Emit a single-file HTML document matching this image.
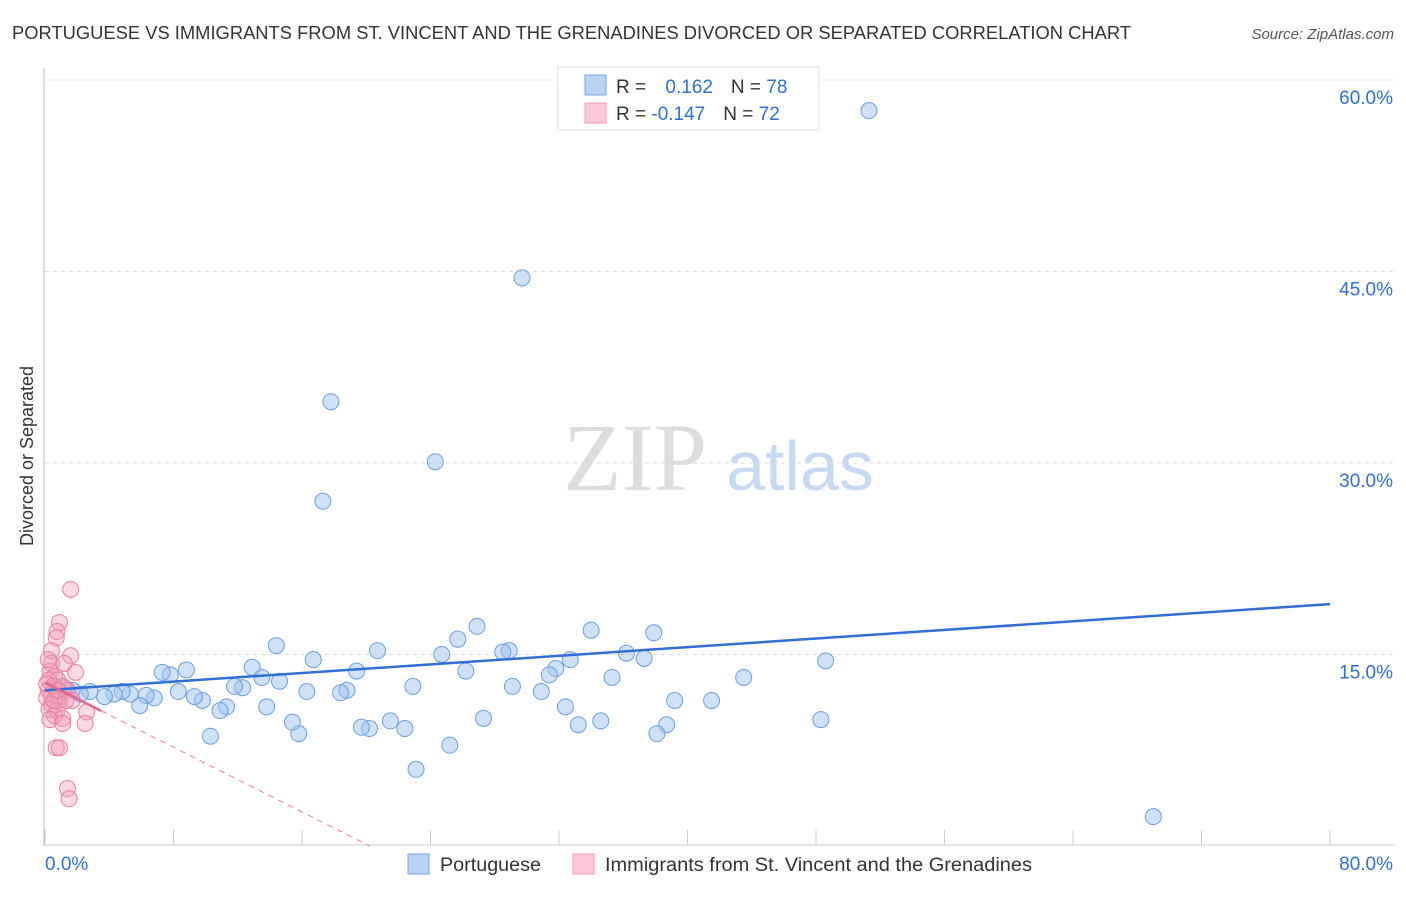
<!DOCTYPE html>
<html><head><meta charset="utf-8"><style>
body{margin:0;background:#fff;font-family:"Liberation Sans",sans-serif}
</style></head><body>
<svg width="1406" height="892" xmlns="http://www.w3.org/2000/svg" font-family="Liberation Sans, sans-serif">
<text x="12" y="39" font-size="18" fill="#333" textLength="1119" lengthAdjust="spacingAndGlyphs">PORTUGUESE VS IMMIGRANTS FROM ST. VINCENT AND THE GRENADINES DIVORCED OR SEPARATED CORRELATION CHART</text>
<text x="1394" y="39" font-size="15" fill="#555" text-anchor="end" font-style="italic">Source: ZipAtlas.com</text>
<text transform="translate(33,456) rotate(-90)" font-size="18" fill="#333" text-anchor="middle">Divorced or Separated</text>
<g><text x="635" y="490" font-size="96" fill="#ddd" font-family="Liberation Serif, serif" text-anchor="middle">ZIP</text><text x="800" y="490" font-size="70" fill="#c8daf3" text-anchor="middle">atlas</text></g>
<g id="grid"></g><g id="marks"></g>
<g>
<rect x="558" y="67" width="261" height="63" fill="#fff" stroke="#ddd"/>
<rect x="585" y="75" width="21" height="20" fill="#b9d3f5" stroke="#7aa6e3"/>
<rect x="585" y="103" width="21" height="20" fill="#fcc8d8" stroke="#f09ab5"/>
<text x="616" y="93" font-size="19" fill="#333">R = <tspan fill="#2f6fd6" dx="14">0.162</tspan><tspan fill="#333" dx="18">N = </tspan><tspan fill="#2f6fd6">78</tspan></text>
<text x="616" y="120" font-size="19" fill="#333">R = <tspan fill="#2f6fd6">-0.147</tspan><tspan fill="#333" dx="18">N = </tspan><tspan fill="#2f6fd6">72</tspan></text>
</g>
<g>
<rect x="408" y="854" width="21" height="20" fill="#b9d3f5" stroke="#7aa6e3"/>
<text x="440" y="871" font-size="19" fill="#333" textLength="101" lengthAdjust="spacingAndGlyphs">Portuguese</text>
<rect x="573" y="854" width="21" height="20" fill="#fcc8d8" stroke="#f09ab5"/>
<text x="605" y="871" font-size="19" fill="#333" textLength="427" lengthAdjust="spacingAndGlyphs">Immigrants from St. Vincent and the Grenadines</text>
</g>
</svg>
<script>
const yTicks=[15,30,45,60];
const xLabels=["0.0%","80.0%"];
const blueX=[51.3,29.7,17.8,24.3,17.3,69.0,48.6,48.3,43.5,41.5,39.2,38.7,38.1,37.9,37.3,36.2,35.3,34.6,34.0,33.2,32.7,32.4,31.8,31.4,30.9,29.1,28.9,28.5,27.3,26.9,26.2,25.7,25.2,24.7,23.1,22.9,22.4,21.5,20.7,20.2,19.7,19.4,18.8,18.4,16.7,16.3,15.8,15.4,14.6,14.4,13.8,13.5,12.9,12.3,11.8,11.3,10.9,10.3,9.8,9.3,8.8,8.3,7.8,7.3,6.8,6.3,5.9,5.3,4.8,4.3,3.7,2.8,2.2,1.7,1.2,0.9];
const blueY=[57.6,44.5,34.8,30.1,27.0,2.3,14.5,9.9,13.2,11.4,11.4,9.5,8.8,16.7,14.7,15.1,13.2,9.8,16.9,9.5,14.6,10.9,13.9,13.4,12.1,12.5,15.3,15.2,10.0,17.2,13.7,16.2,7.9,15.0,6.0,12.5,9.2,9.8,15.3,9.2,9.3,13.7,12.2,12.0,14.6,12.1,8.8,9.7,12.9,15.7,10.9,13.2,14.0,12.4,12.5,10.9,10.6,8.6,11.4,11.7,13.8,12.1,13.4,13.6,11.6,11.8,11.0,11.9,12.1,11.9,11.7,12.1,11.9,12.2,12.4,11.7];
const pinkX=[1.6,0.9,0.75,0.7,0.4,1.6,1.2,0.4,1.9,0.3,0.6,0.25,0.8,0.5,1.1,0.2,1.4,0.4,0.7,0.1,0.9,1.7,0.4,0.25,0.75,0.6,1.1,2.6,0.3,1.1,2.5,0.7,0.9,1.4,1.5,0.2,0.55,1.3,0.8,0.1];
const pinkY=[20.1,17.5,16.8,16.3,15.3,14.9,14.3,14.3,13.6,13.7,13.3,13.0,13.0,12.5,12.5,12.2,12.2,11.9,11.7,11.6,11.4,11.4,11.1,10.7,10.6,10.2,10.0,10.5,9.9,9.6,9.6,7.7,7.7,4.5,3.7,14.6,11.4,11.4,12.2,12.7];
const blueTrend=[12.2,18.95];
const pinkTrend=[12.8,-0.633];
const NS="http://www.w3.org/2000/svg";
const X=v=>45+v/80*1285, Y=v=>846-v/60*766;
function mk(p,t,a){const e=document.createElementNS(NS,t);for(const k in a)e.setAttribute(k,a[k]);p.appendChild(e);return e;}
const g=document.getElementById('grid'), m=document.getElementById('marks');
let ax=mk(g,'line',{x1:44,y1:68,x2:44,y2:846,stroke:'#bbb'});

let bx=mk(g,'line',{x1:44,y1:845,x2:1394,y2:845,stroke:'#ccc'});

yTicks.forEach(t=>{
 const l=mk(g,'line',{x1:45,x2:1394,y1:Y(t),y2:Y(t),stroke:'#ddd','stroke-dasharray':'4,4'});
 
 const tx=mk(g,'text',{x:1393,y:Y(t)+24,'font-size':19,fill:'#2f6fd6','text-anchor':'end'});
 tx.textContent=t.toFixed(1)+'%';
 
});
for(let i=0;i<=10;i++){const tk=mk(g,'line',{x1:X(i*8),x2:X(i*8),y1:830,y2:845,stroke:'#ccc'});
 }
xLabels.forEach((s,i)=>{const tx=mk(g,'text',{x:i?1393:45,y:870,'font-size':19,fill:'#2f6fd6','text-anchor':i?'end':'start'});tx.textContent=s;
 });
blueX.forEach((v,i)=>{const c=mk(m,'circle',{cx:X(v),cy:Y(blueY[i]),r:8,fill:'rgba(160,195,240,0.5)',stroke:'#6a9fe0','stroke-width':1});
 });
pinkX.forEach((v,i)=>{const c=mk(m,'circle',{cx:X(v),cy:Y(pinkY[i]),r:8,fill:'rgba(245,160,185,0.4)',stroke:'#e87fa0','stroke-width':1});
 });
let bl=mk(m,'line',{x1:X(0),y1:Y(blueTrend[0]),x2:X(80),y2:Y(blueTrend[1]),stroke:'#2f6fd6','stroke-width':2.5});

const px0=-pinkTrend[0]/pinkTrend[1];
let pd=mk(m,'line',{x1:X(3.5),y1:Y(pinkTrend[0]+pinkTrend[1]*3.5),x2:X(px0),y2:Y(0),stroke:'#e87fa0','stroke-width':1,'stroke-dasharray':'6,5'});

let ps=mk(m,'line',{x1:X(0),y1:Y(pinkTrend[0]),x2:X(3.5),y2:Y(pinkTrend[0]+pinkTrend[1]*3.5),stroke:'#e06590','stroke-width':2.5});

</script>
</body></html>
